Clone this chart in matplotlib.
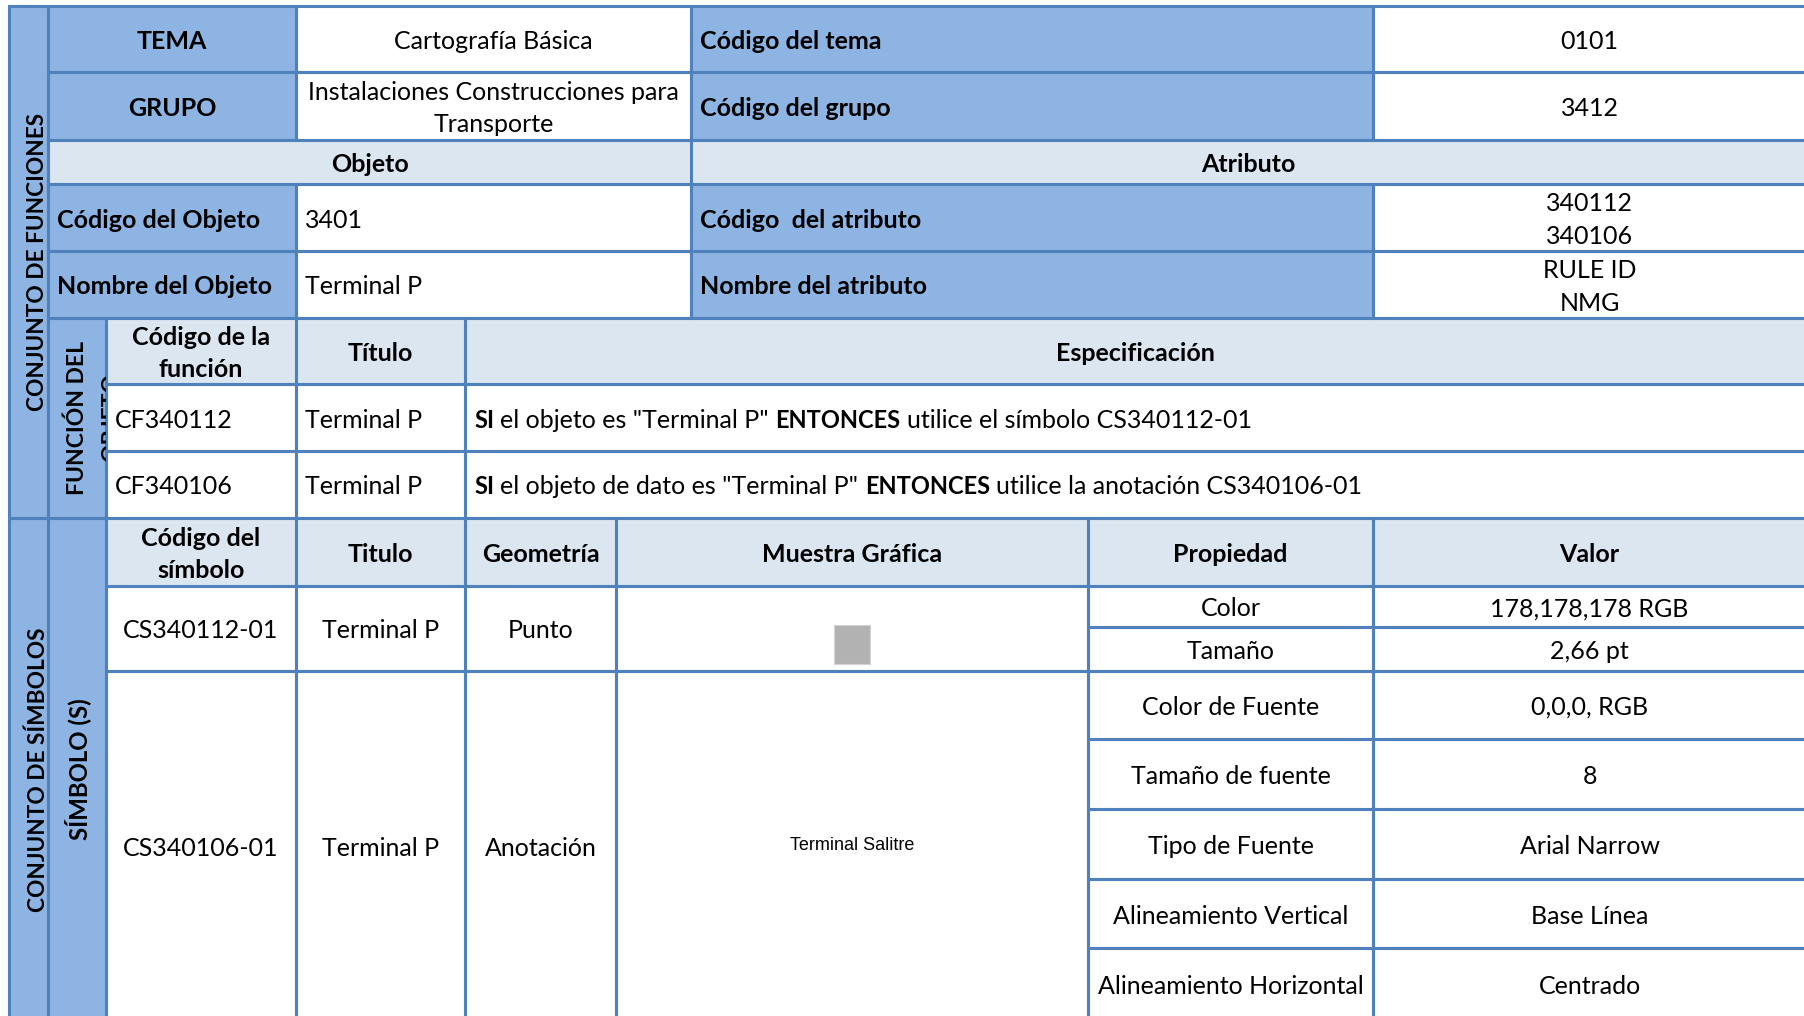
import matplotlib
matplotlib.use("Agg")
import matplotlib.pyplot as plt
from matplotlib.patches import Rectangle
from matplotlib import font_manager

# ---- table contents ----
tema = "Cartografía Básica"
codigo_tema = "0101"
grupo = "Instalaciones Construcciones para\nTransporte"
codigo_grupo = "3412"
codigo_objeto = "3401"
nombre_objeto = "Terminal P"
codigos_atributo = ["340112", "340106"]
nombres_atributo = ["RULE ID", "NMG"]

funcion_headers = ["Código de la\nfunción", "Título", "Especificación"]
funcion_codigos = ["CF340112", "CF340106"]
funcion_titulos = ["Terminal P", "Terminal P"]
funcion_specs = [
    [("SI", True), (' el objeto es "Terminal P" ', False), ("ENTONCES", True),
     (" utilice el símbolo CS340112-01", False)],
    [("SI", True), (' el objeto de dato es "Terminal P" ', False), ("ENTONCES", True),
     (" utilice la anotación CS340106-01", False)],
]

simbolo_headers = ["Código del\nsímbolo", "Titulo", "Geometría", "Muestra Gráfica", "Propiedad", "Valor"]
simbolo_codigos = ["CS340112-01", "CS340106-01"]
simbolo_titulos = ["Terminal P", "Terminal P"]
simbolo_geometrias = ["Punto", "Anotación"]
muestra_gris = (178, 178, 178)
muestra_texto = "Terminal Salitre"
propiedades = [["Color", "Tamaño"],
               ["Color de Fuente", "Tamaño de fuente", "Tipo de Fuente",
                "Alineamiento Vertical", "Alineamiento Horizontal"]]
valores = [["178,178,178 RGB", "2,66 pt"],
           ["0,0,0, RGB", "8", "Arial Narrow", "Base Línea", "Centrado"]]

# ---- styling ----
DARK = "#8DB4E2"
LIGHT = "#DCE6F1"
LINE = "#4F81BD"
FONT = "Lato"
FS = 18
LS = 1.5
PAD = 9
DY = 2.5  # text sits a little below the geometric centre, like in Excel

names = {f.name for f in font_manager.fontManager.ttflist}
if "Liberation Sans Narrow" in names:
    NARROW, NARROW_FS = "Liberation Sans Narrow", 15
else:
    NARROW, NARROW_FS = "Liberation Sans", 13

# column / row edges in pixels
xa, xb, xc, xd, xe, xf, xg, xh, xi, xr = 9, 48, 106, 296, 465, 616, 691, 1088, 1373, 1806
r_top = [6, 72, 140, 184, 251, 318]
r_fun = [318, 384, 451, 518]
r_sym_head = (518, 586)
r_sym1 = [586, 627, 671]
r_sym2 = [671, 739, 809, 879, 948, 1021]

fig = plt.figure(figsize=(18.04, 10.16), dpi=100)
ax = fig.add_axes([0, 0, 1, 1])
ax.set_xlim(0, 1804)
ax.set_ylim(1016, 0)
ax.axis("off")
renderer = fig.canvas.get_renderer()


def cell(x0, x1, y0, y1, fc="white"):
    fill = Rectangle((x0, y0), x1 - x0, y1 - y0, facecolor=fc, edgecolor="none", zorder=1)
    ax.add_patch(fill)
    ax.add_patch(Rectangle((x0, y0), x1 - x0, y1 - y0, facecolor="none",
                           edgecolor=LINE, lw=2.2, zorder=2))
    return fill


def txt(x, y, s, bold=False, ha="center", **kw):
    kw.setdefault("fontsize", FS)
    kw.setdefault("family", FONT)
    return ax.text(x, y, s, ha=ha, va="center", fontweight="bold" if bold else "normal",
                   linespacing=LS, color="black", zorder=3, **kw)


def ctxt(x0, x1, y0, y1, s, bold=False):
    return txt((x0 + x1) / 2, (y0 + y1) / 2 + DY, s, bold)


def ltxt(x0, y0, y1, s, bold=False):
    return txt(x0 + PAD, (y0 + y1) / 2 + DY, s, bold, ha="left")


def width(s, bold, size):
    t = txt(0, 0, s, bold, fontsize=size)
    w = t.get_window_extent(renderer).width
    t.remove()
    return w


def rich(x, y, parts):
    for s, b in parts:
        size = 17 if b else FS
        sp = width("a a", b, size) - width("aa", b, size)
        core = s.strip(" ")
        x += (len(s) - len(s.lstrip(" "))) * sp
        t = txt(x, y, core, b, ha="left", fontsize=size)
        x += t.get_window_extent(renderer).width + (len(s) - len(s.rstrip(" "))) * sp


# ---- left vertical bands ----
cell(xa, xb, r_top[0], r_fun[-1], DARK)
txt(38, (r_top[0] + r_fun[-1]) / 2, "CONJUNTO DE FUNCIONES", True, rotation=90, fontsize=16.3)
cell(xa, xb, r_sym_head[0], r_sym2[-1], DARK)
txt(38, (r_sym_head[0] + r_sym2[-1]) / 2, "CONJUNTO DE SÍMBOLOS", True, rotation=90, fontsize=16.3)

fo = cell(xb, xc, r_fun[0], r_fun[-1], DARK)
ymid = (r_fun[0] + r_fun[-1]) / 2
txt(77, ymid, "FUNCIÓN DEL", True, rotation=90, fontsize=16.5)
t = txt(112, ymid, "OBJETO", True, rotation=90, fontsize=16.5)
t.set_clip_path(fo)
t.set_clip_on(True)
cell(xb, xc, r_sym_head[0], r_sym2[-1], DARK)
txt(78, (r_sym_head[0] + r_sym2[-1]) / 2, "SÍMBOLO (S)", True, rotation=90, fontsize=17.3)

# ---- tema / grupo ----
y0, y1, y2, y3, y4, y5 = r_top
cell(xb, xd, y0, y1, DARK); ctxt(xb, xd, y0, y1, "TEMA", True)
cell(xd, xg, y0, y1); ctxt(xd, xg, y0, y1, tema)
cell(xg, xi, y0, y1, DARK); ltxt(xg, y0, y1, "Código del tema", True)
cell(xi, xr, y0, y1); ctxt(xi, xr, y0, y1, codigo_tema)

cell(xb, xd, y1, y2, DARK); ctxt(xb, xd, y1, y2, "GRUPO", True)
cell(xd, xg, y1, y2); ctxt(xd, xg, y1, y2, grupo)
cell(xg, xi, y1, y2, DARK); ltxt(xg, y1, y2, "Código del grupo", True)
cell(xi, xr, y1, y2); ctxt(xi, xr, y1, y2, codigo_grupo)

cell(xb, xg, y2, y3, LIGHT); ctxt(xb, xg, y2, y3, "Objeto", True)
cell(xg, xr, y2, y3, LIGHT); ctxt(xg, xr, y2, y3, "Atributo", True)

cell(xb, xd, y3, y4, DARK); ltxt(xb, y3, y4, "Código del Objeto", True)
cell(xd, xg, y3, y4); ltxt(xd, y3, y4, codigo_objeto)
cell(xg, xi, y3, y4, DARK); ltxt(xg, y3, y4, "Código  del atributo", True)
cell(xi, xr, y3, y4); ctxt(xi, xr, y3, y4, "\n".join(codigos_atributo))

cell(xb, xd, y4, y5, DARK); ltxt(xb, y4, y5, "Nombre del Objeto", True)
cell(xd, xg, y4, y5); ltxt(xd, y4, y5, nombre_objeto)
cell(xg, xi, y4, y5, DARK); ltxt(xg, y4, y5, "Nombre del atributo", True)
cell(xi, xr, y4, y5); ctxt(xi, xr, y4, y5, "\n".join(nombres_atributo))

# ---- funciones ----
f0, f1 = r_fun[0], r_fun[1]
for (a, b), h in zip([(xc, xd), (xd, xe), (xe, xr)], funcion_headers):
    cell(a, b, f0, f1, LIGHT)
    ctxt(a, b, f0, f1, h, True)
for i in range(len(funcion_codigos)):
    ya, yb = r_fun[i + 1], r_fun[i + 2]
    cell(xc, xd, ya, yb); ltxt(xc, ya, yb, funcion_codigos[i])
    cell(xd, xe, ya, yb); ltxt(xd, ya, yb, funcion_titulos[i])
    cell(xe, xr, ya, yb)
    rich(xe + PAD, (ya + yb) / 2 + DY, funcion_specs[i])

# ---- simbolos ----
s0, s1 = r_sym_head
cols = [(xc, xd), (xd, xe), (xe, xf), (xf, xh), (xh, xi), (xi, xr)]
for (a, b), h in zip(cols, simbolo_headers):
    cell(a, b, s0, s1, LIGHT)
    ctxt(a, b, s0, s1, h, True)

blocks = [r_sym1, r_sym2]
for i, rows in enumerate(blocks):
    ya, yb = rows[0], rows[-1]
    cell(xc, xd, ya, yb); ctxt(xc, xd, ya, yb, simbolo_codigos[i])
    cell(xd, xe, ya, yb); ctxt(xd, xe, ya, yb, simbolo_titulos[i])
    cell(xe, xf, ya, yb); ctxt(xe, xf, ya, yb, simbolo_geometrias[i])
    cell(xf, xh, ya, yb)
    for j, (p, v) in enumerate(zip(propiedades[i], valores[i])):
        cell(xh, xi, rows[j], rows[j + 1]); ctxt(xh, xi, rows[j], rows[j + 1], p)
        cell(xi, xr, rows[j], rows[j + 1]); ctxt(xi, xr, rows[j], rows[j + 1], v)

# graphic samples
gx = (xf + xh) / 2
gray = tuple(c / 255 for c in muestra_gris)
ax.add_patch(Rectangle((gx - 18, 625), 36, 39, facecolor=gray, edgecolor="#D4D4D4",
                       lw=0.8, zorder=3))
ax.text(gx, (r_sym2[0] + r_sym2[-1]) / 2, muestra_texto, ha="center", va="center",
        family=NARROW, fontsize=NARROW_FS, fontstretch="condensed", color="black", zorder=3)

fig.savefig("out.png", dpi=100, facecolor="white")
